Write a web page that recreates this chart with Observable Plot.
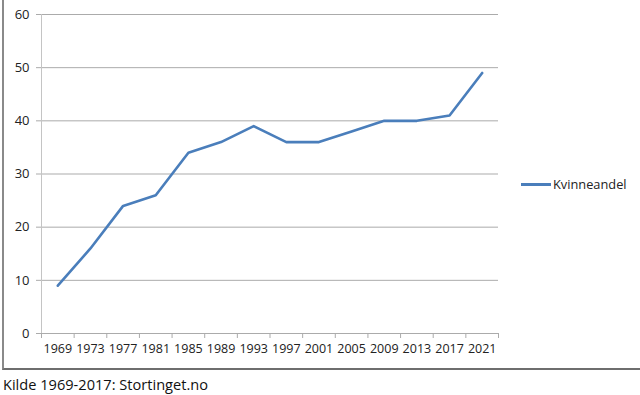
<!DOCTYPE html>
<html>
<head>
<meta charset="utf-8">
<script src="https://cdn.jsdelivr.net/npm/d3@7"></script>
<script src="https://cdn.jsdelivr.net/npm/@observablehq/plot@0.6"></script>
<style>
  body { margin: 0; background: #fff; font-family: "Open Sans", "Noto Sans", sans-serif; }
  #wrap { position: relative; width: 640px; height: 395px; overflow: hidden; }
  #frame { position: absolute; left: 2px; top: -2px; width: 650px; height: 370px;
           border-left: 2px solid #8a8a8a; border-bottom: 2px solid #6e6e6e; pointer-events: none; }
  #chart { position: absolute; left: 0; top: 0; }
  #legend { position: absolute; left: 521px; top: 175px; font-size: 12.8px; color: #222; display: flex; align-items: center; }
  #legend span.sw { display: inline-block; width: 30px; height: 3px; background: #4a7ebb; margin-right: 2px; }
  #caption { position: absolute; left: 3px; top: 374px; font-size: 14.6px; color: #111; }
</style>
</head>
<body>
<div id="wrap">
  <div id="chart"></div>
  <div id="frame"></div>
  <div id="legend"><span class="sw"></span>Kvinneandel</div>
  <div id="caption">Kilde 1969-2017: Stortinget.no</div>
</div>
<script>
const years = [1969, 1973, 1977, 1981, 1985, 1989, 1993, 1997, 2001, 2005, 2009, 2013, 2017, 2021];
const kvinneandel = [9, 16, 24, 26, 34, 36, 39, 36, 36, 38, 40, 40, 41, 49];
const yTicks = [0, 10, 20, 30, 40, 50, 60];

const data = years.map((y, i) => ({ pos: i + 0.5, year: y, value: kvinneandel[i] }));
const boundaries = d3.range(0, years.length + 1);

const chart = Plot.plot({
  width: 640,
  height: 372,
  marginLeft: 41,
  marginRight: 142,
  marginTop: 14,
  marginBottom: 39,
  style: { fontFamily: "'Open Sans', 'Noto Sans', sans-serif", fontSize: "12px", color: "#222", background: "transparent" },
  x: { type: "linear", domain: [0, years.length] },
  y: { domain: [0, 60] },
  marks: [
    Plot.gridY(yTicks, { stroke: "#ababab", strokeOpacity: 1 }),
    Plot.axisY(yTicks, { tickSize: 5, tickPadding: 7, stroke: "#ababab", fill: "#222", fontSize: 13, label: null, tickFormat: d => String(d) }),
    Plot.ruleX([0], { stroke: "#c4c4c4" }),
    Plot.ruleY([0], { stroke: "#ababab" }),
    Plot.axisX(boundaries, { tickSize: 5, tickFormat: () => "", stroke: "#ababab", label: null }),
    Plot.axisX(data.map(d => d.pos), { tickSize: 0, tickPadding: 11, tickFormat: p => String(years[Math.round(p - 0.5)]), fill: "#222", fontSize: 12.5, label: null }),
    Plot.line(data, { x: "pos", y: "value", stroke: "#4a7ebb", strokeWidth: 2.6, strokeLinejoin: "round", strokeLinecap: "round" })
  ]
});
document.getElementById("chart").appendChild(chart);
</script>
</body>
</html>
